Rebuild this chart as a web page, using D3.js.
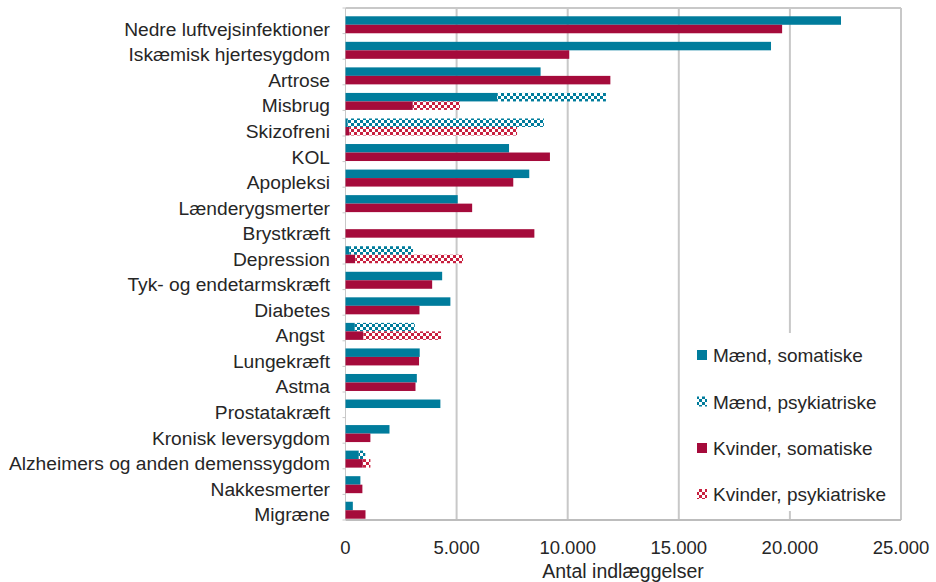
<!DOCTYPE html>
<html><head><meta charset="utf-8">
<script src="https://cdn.jsdelivr.net/npm/d3@7"></script>
<style>
html,body{margin:0;padding:0;background:#fff;}
text{font-family:"Liberation Sans",Arial,sans-serif;fill:#262626;}
</style></head>
<body>
<svg id="chart" width="936" height="582"></svg>
<script>
const categories = ["Nedre luftvejsinfektioner","Iskæmisk hjertesygdom","Artrose","Misbrug","Skizofreni","KOL","Apopleksi","Lænderygsmerter","Brystkræft","Depression","Tyk- og endetarmskræft","Diabetes","Angst ","Lungekræft","Astma","Prostatakræft","Kronisk leversygdom","Alzheimers og anden demenssygdom","Nakkesmerter","Migræne"];
const maendSomatiske   = [22300,19150,8780,6830,100,7360,8270,5050,0,170,4350,4720,420,3340,3210,4270,1980,600,670,330];
const maendPsykiatriske= [0,0,0,4890,8830,0,0,0,0,2870,0,0,2700,0,0,0,0,290,0,0];
const kvinderSomatiske = [19650,10070,11920,3030,180,9200,7550,5700,8500,440,3900,3330,810,3310,3150,0,1120,780,760,900];
const kvinderPsykiatriske=[0,0,0,2120,7540,0,0,0,0,4850,0,0,3490,0,0,0,0,340,0,0];
const xTicks = [0,5000,10000,15000,20000,25000];
const legendLabels = ["Mænd, somatiske","Mænd, psykiatriske","Kvinder, somatiske","Kvinder, psykiatriske"];

const teal = "#007c9c", crimson = "#a50b3b";
const svg = d3.select("#chart");
const defs = svg.append("defs");
function pattern(id, color){
  const p = defs.append("pattern").attr("id",id).attr("patternUnits","userSpaceOnUse")
    .attr("width",6).attr("height",6);
  p.append("rect").attr("width",6).attr("height",6).attr("fill","#fff");
  p.append("rect").attr("x",0).attr("y",0).attr("width",3).attr("height",3).attr("fill",color);
  p.append("rect").attr("x",3).attr("y",3).attr("width",3).attr("height",3).attr("fill",color);
}
pattern("pm", teal); pattern("pk", "#c8203f");

const x = d3.scaleLinear().domain([0,25000]).range([345.5,901]);
const y = d3.scaleBand().domain(categories).range([12,523]).paddingInner(0.335).paddingOuter(0.1675);
const sub = d3.scaleBand().domain(["m","k"]).range([0,y.bandwidth()]);
const plotTop = 8, plotBottom = 520;

// grid
svg.append("g").selectAll("line").data(xTicks.slice(1)).join("line")
  .attr("x1",d=>x(d)).attr("x2",d=>x(d)).attr("y1",plotTop).attr("y2",plotBottom)
  .attr("stroke","#c8c8c8").attr("stroke-width",2);
svg.append("line").attr("x1",x(0)).attr("x2",x(25000)).attr("y1",plotTop).attr("y2",plotTop)
  .attr("stroke","#c8c8c8").attr("stroke-width",2);
svg.append("line").attr("x1",x(0)).attr("x2",x(25000)).attr("y1",plotBottom).attr("y2",plotBottom)
  .attr("stroke","#bdbdbd").attr("stroke-width",2);
// left axis
svg.append("line").attr("x1",x(0)).attr("x2",x(0)).attr("y1",plotTop).attr("y2",plotBottom)
  .attr("stroke","#c8c8c8").attr("stroke-width",1);
const boundaries = d3.range(21).map(i=>plotTop + i*(plotBottom-plotTop)/20);
svg.append("g").selectAll("line").data(boundaries).join("line")
  .attr("x1",x(0)-3).attr("x2",x(0)).attr("y1",d=>d).attr("y2",d=>d)
  .attr("stroke","#c8c8c8").attr("stroke-width",1);

const rows = categories.map((c,i)=>({c,i}));
function bars(key, som, psy, fillS, fillP){
  const g = svg.append("g");
  g.selectAll("rect.s").data(rows).join("rect").attr("class","s")
    .attr("x",d=>x(0)).attr("y",d=>y(d.c)+sub(key))
    .attr("width",d=>x(som[d.i])-x(0)).attr("height",sub.bandwidth())
    .attr("fill",fillS);
  g.selectAll("rect.p").data(rows.filter(d=>psy[d.i]>0)).join("rect").attr("class","p")
    .attr("x",d=>x(som[d.i])).attr("y",d=>y(d.c)+sub(key))
    .attr("width",d=>x(som[d.i]+psy[d.i])-x(som[d.i])).attr("height",sub.bandwidth())
    .attr("fill",fillP);
}
bars("m", maendSomatiske, maendPsykiatriske, teal, "url(#pm)");
bars("k", kvinderSomatiske, kvinderPsykiatriske, crimson, "url(#pk)");

// category labels
svg.append("g").selectAll("text").data(categories).join("text")
  .attr("x",330).attr("y",d=>y(d)+y.bandwidth()/2+11)
  .attr("text-anchor","end").attr("font-size",19.2)
  .style("white-space","pre").text(d=>d);

// x tick labels
svg.append("g").selectAll("text").data(xTicks).join("text")
  .attr("x",d=>x(d)).attr("y",554).attr("text-anchor","middle").attr("font-size",18.5)
  .text(d=>d3.format(",")(d).replace(/,/g,"."));
svg.append("text").attr("x",623).attr("y",578).attr("text-anchor","middle").attr("font-size",19.5)
  .text("Antal indlæggelser");

// legend
const lg = svg.append("g");
lg.append("rect").attr("x",688).attr("y",333).attr("width",211).attr("height",178).attr("fill","#fff");
const lfills = [teal,"url(#pm)",crimson,"url(#pk)"];
const ly = [355,401.5,448,494];
legendLabels.forEach((t,i)=>{
  lg.append("rect").attr("x",697).attr("y",ly[i]-5).attr("width",10).attr("height",10).attr("fill",lfills[i]);
  lg.append("text").attr("x",713).attr("y",ly[i]+7).attr("font-size",19).text(t);
});
</script>
</body></html>
